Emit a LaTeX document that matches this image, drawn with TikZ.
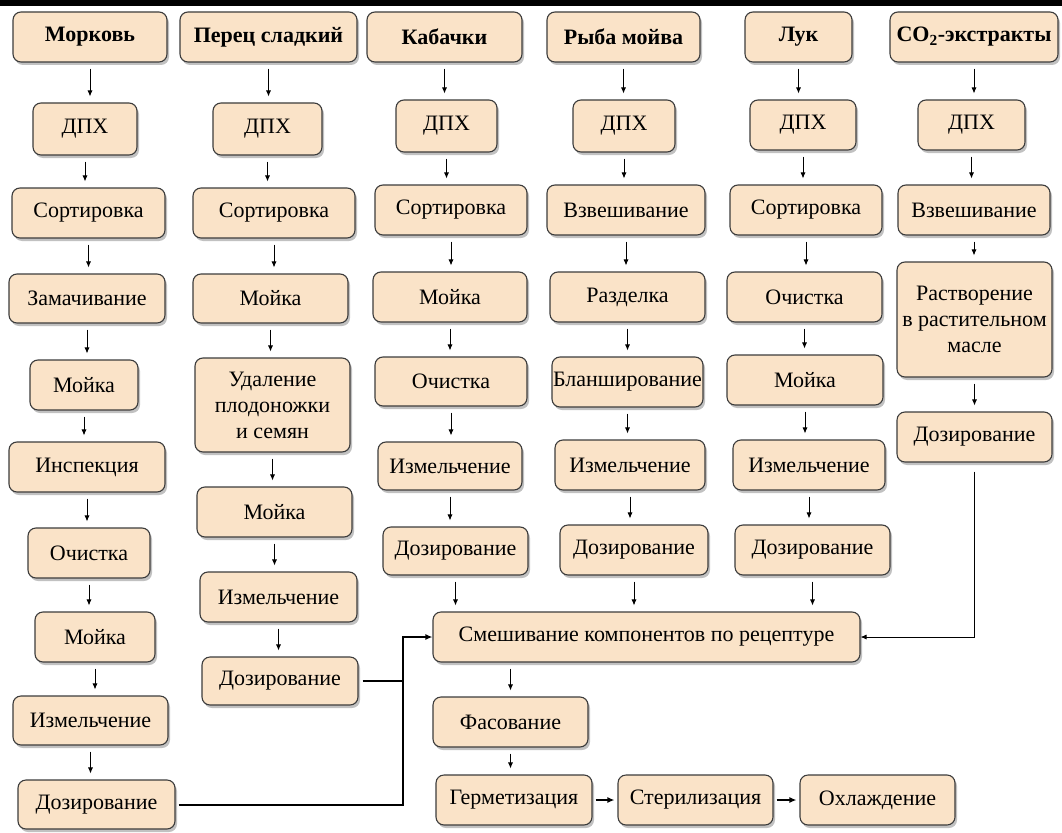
\documentclass[tikz,border=0pt]{standalone}
\usepackage{fontspec}
\setmainfont{Liberation Serif}
\usetikzlibrary{shadows,arrows.meta,calc}
\definecolor{boxfill}{HTML}{FAE3C8}
\definecolor{boxdraw}{HTML}{3C3C3C}
\tikzset{
  box/.style={draw=boxdraw, line width=1.1pt, fill=boxfill, rounded corners=8pt,
    inner sep=1pt, align=center, font=\fontsize{22}{26}\selectfont,
    drop shadow={shadow xshift=2pt, shadow yshift=-3pt, opacity=.35, fill=black!70}},
  head/.style={font=\fontsize{22}{26}\selectfont\bfseries},
  arr/.style={draw=black, line width=0.8pt, -{Latex[length=6pt,width=5pt]}, shorten <=6pt, shorten >=6pt},
  thinarr/.style={draw=black, line width=0.8pt, -{Latex[length=6pt,width=5pt]}},
  tline/.style={draw=black, line width=2pt},
  tarr/.style={draw=black, line width=2pt, -{Latex[length=7pt,width=6pt]}},
}
\newcommand\B[7][]{\node[box,#1, minimum width={(#4-#2)*1pt}, minimum height={(#5-#3)*1pt}] (#6) at ({(#2+#4)/2},{(#3+#5)/2}) {#7};}
\newcommand\A[2]{\draw[arr] (#1.south) -- (#1.south |- #2.north);}
\begin{document}
\begin{tikzpicture}[x=1pt,y=-1pt]
\useasboundingbox (0,0) rectangle (1062,832);
\fill[black] (0,0) rectangle (1062,6);
% column 1
\B[head]{13}{12}{167}{62}{m1}{Морковь}
\B{33}{103}{137}{155}{m2}{ДПХ}
\B{12}{188}{165}{238}{m3}{Сортировка}
\B{9}{274}{165}{323}{m4}{Замачивание}
\B{30}{360}{138}{410}{m5}{Мойка}
\B{9}{442}{165}{492}{m6}{Инспекция}
\B{28}{528}{150}{578}{m7}{Очистка}
\B{35}{612}{155}{662}{m8}{Мойка}
\B{13}{696}{168}{745}{m9}{Измельчение}
\B{18}{780}{175}{829}{m10}{Дозирование}
% column 2
\B[head]{180}{12}{357}{62}{p1}{Перец сладкий}
\B{213}{103}{322}{155}{p2}{ДПХ}
\B{193}{188}{355}{238}{p3}{Сортировка}
\B{193}{274}{348}{323}{p4}{Мойка}
\B{195}{358}{350}{452}{p5}{Удаление\\плодоножки\\и семян}
\B{197}{487}{352}{537}{p6}{Мойка}
\B{200}{572}{357}{622}{p7}{Измельчение}
\B{202}{657}{358}{705}{p8}{Дозирование}
% column 3
\B[head]{367}{12}{522}{62}{k1}{Кабачки}
\B{396}{100}{497}{152}{k2}{ДПХ}
\B{375}{185}{527}{235}{k3}{Сортировка}
\B{373}{272}{527}{322}{k4}{Мойка}
\B{375}{357}{527}{406}{k5}{Очистка}
\B{378}{442}{522}{490}{k6}{Измельчение}
\B{383}{527}{528}{575}{k7}{Дозирование}
% column 4
\B[head]{547}{12}{700}{62}{r1}{Рыба мойва}
\B{573}{100}{675}{152}{r2}{ДПХ}
\B{547}{185}{705}{235}{r3}{Взвешивание}
\B{550}{272}{705}{322}{r4}{Разделка}
\B{552}{357}{703}{407}{r5}{Бланширование}
\B{555}{440}{705}{490}{r6}{Измельчение}
\B{560}{525}{708}{575}{r7}{Дозирование}
% column 5
\B[head]{745}{12}{852}{62}{l1}{Лук}
\B{750}{100}{856}{150}{l2}{ДПХ}
\B{730}{185}{882}{235}{l3}{Сортировка}
\B{727}{272}{882}{322}{l4}{Очистка}
\B{727}{355}{883}{405}{l5}{Мойка}
\B{733}{440}{885}{490}{l6}{Измельчение}
\B{735}{525}{890}{575}{l7}{Дозирование}
% column 6
\B[head]{890}{12}{1058}{62}{c1}{CO\textsubscript{2}-экстракты}
\B{918}{100}{1025}{150}{c2}{ДПХ}
\B{898}{185}{1050}{235}{c3}{Взвешивание}
\B{897}{262}{1052}{377}{c4}{Растворение\\в растительном\\масле}
\B{897}{412}{1052}{462}{c5}{Дозирование}
% bottom
\B{433}{612}{860}{662}{mix}{Смешивание компонентов по рецептуре}
\B{433}{697}{588}{747}{fas}{Фасование}
\B{436}{775}{592}{825}{ger}{Герметизация}
\B{618}{775}{773}{825}{ster}{Стерилизация}
\B{800}{775}{955}{825}{ohl}{Охлаждение}
% vertical arrows
\A{m1}{m2}\A{m2}{m3}\A{m3}{m4}\A{m4}{m5}\A{m5}{m6}\A{m6}{m7}\A{m7}{m8}\A{m8}{m9}\A{m9}{m10}
\A{p1}{p2}\A{p2}{p3}\A{p3}{p4}\A{p4}{p5}\A{p5}{p6}\A{p6}{p7}\A{p7}{p8}
\A{k1}{k2}\A{k2}{k3}\A{k3}{k4}\A{k4}{k5}\A{k5}{k6}\A{k6}{k7}\A{k7}{mix}
\A{r1}{r2}\A{r2}{r3}\A{r3}{r4}\A{r4}{r5}\A{r5}{r6}\A{r6}{r7}\A{r7}{mix}
\A{l1}{l2}\A{l2}{l3}\A{l3}{l4}\A{l4}{l5}\A{l5}{l6}\A{l6}{l7}\A{l7}{mix}
\A{c1}{c2}\A{c2}{c3}\A{c3}{c4}\A{c4}{c5}
\draw[arr] (fas.north |- mix.south) -- (fas.north);
\draw[arr] (fas.south) -- (fas.south |- ger.north);
% joins
\coordinate (J) at (403,637);
\draw[tarr, shorten <=3pt] (m10.east) -| (J) -- (mix.west);
\draw[tline, shorten <=4pt] (p8.east) -- (p8.east -| J);
\draw[thinarr, shorten <=9pt] (c5.south) |- (mix.east);
\draw[tarr, shorten <=3pt, shorten >=3pt] (ger.east) -- (ster.west);
\draw[tarr, shorten <=3pt, shorten >=3pt] (ster.east) -- (ohl.west);
\end{tikzpicture}
\end{document}
